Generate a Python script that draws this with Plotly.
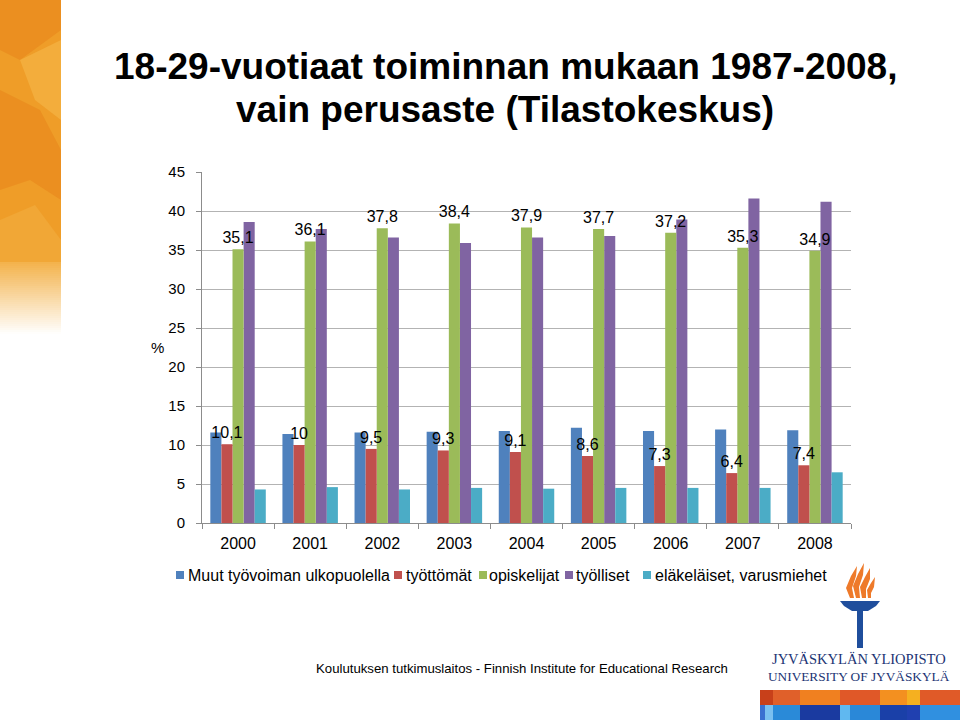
import plotly.graph_objects as go

# ---------------- data ----------------
years = ["2000", "2001", "2002", "2003", "2004", "2005", "2006", "2007", "2008"]
muut = [11.6, 11.4, 11.6, 11.7, 11.8, 12.2, 11.8, 12.0, 11.9]
tyottomat = [10.1, 10.0, 9.5, 9.3, 9.1, 8.6, 7.3, 6.4, 7.4]
opiskelijat = [35.1, 36.1, 37.8, 38.4, 37.9, 37.7, 37.2, 35.3, 34.9]
tyolliset = [38.6, 37.7, 36.6, 35.9, 36.6, 36.8, 38.9, 41.6, 41.2]
elakelaiset = [4.3, 4.6, 4.3, 4.5, 4.4, 4.5, 4.5, 4.5, 6.5]

series_names = ["Muut työvoiman ulkopuolella", "työttömät", "opiskelijat",
                "työlliset", "eläkeläiset, varusmiehet"]
colors = ["#4F81BD", "#C0504D", "#9BBB59", "#8064A2", "#4BACC6"]

y_ticks = [0, 5, 10, 15, 20, 25, 30, 35, 40, 45]


def fi(v):
    return f"{v:g}".replace(".", ",")


# ---------------- layout geometry ----------------
W, H = 960, 720
ML, MR, MT, MB = 202, 109, 172, 197
PW, PH = W - ML - MR, H - MT - MB


def px(x):
    return (x - ML) / PW


def py(y):
    return (H - MB - y) / PH


bw = 1 / 6.5  # Excel gap width 150 %
offsets = [-2.5 * bw, -1.5 * bw, -0.5 * bw, 0.5 * bw, 1.5 * bw]
values = [muut, tyottomat, opiskelijat, tyolliset, elakelaiset]

fig = go.Figure()
draw_order = [0, 3, 4, 2, 1]
for i in draw_order:
    labelled = i in (1, 2)
    fig.add_trace(go.Bar(
        x=years, y=values[i], name=series_names[i],
        marker=dict(color=colors[i], line=dict(width=0)),
        width=bw, offset=offsets[i],
        text=[fi(v) for v in values[i]] if labelled else None,
        textposition="outside" if labelled else "none",
        textfont=dict(family="Liberation Sans, Arial", size=16, color="black"),
        constraintext="none", cliponaxis=False,
        showlegend=False,
    ))

shapes = []
annotations = []

# left orange decorative strip
shapes.append(dict(type="rect", xref="paper", yref="paper",
                   x0=px(0), x1=px(61), y0=py(0), y1=py(262),
                   fillcolor="#EF9D28", line=dict(width=0), layer="below"))
patches = [
    ([(0, 0), (61, 0), (61, 30), (20, 60), (0, 50)], "#E8861A"),
    ([(0, 90), (40, 110), (61, 150), (61, 200), (30, 180), (0, 190)], "#E8861A"),
    ([(20, 60), (61, 40), (61, 120), (35, 100)], "#F5B84A"),
    ([(0, 220), (35, 205), (61, 240), (61, 262), (0, 262)], "#F2AE40"),
]
for p, c in patches:
    path = "M " + " L ".join(f"{px(a)},{py(b)}" for a, b in p) + " Z"
    shapes.append(dict(type="path", xref="paper", yref="paper", path=path,
                       fillcolor=c, opacity=0.6, line=dict(width=0), layer="below"))
steps = 36
for k in range(steps):
    y0 = 262 + k * 2
    op = 1 - (k + 0.5) / steps
    shapes.append(dict(type="rect", xref="paper", yref="paper",
                       x0=px(0), x1=px(61), y0=py(y0), y1=py(y0 + 2),
                       fillcolor="#F3B24A", opacity=op, line=dict(width=0), layer="below"))

# manual legend
leg_sq = [176, 394, 479, 565, 643]
leg_tx = [188, 406, 489, 576, 655]
for i in range(5):
    shapes.append(dict(type="rect", xref="paper", yref="paper",
                       x0=px(leg_sq[i]), x1=px(leg_sq[i] + 8),
                       y0=py(579), y1=py(571), fillcolor=colors[i], line=dict(width=0)))
    annotations.append(dict(xref="paper", yref="paper", x=px(leg_tx[i] - 2), y=py(575),
                            xanchor="left", yanchor="middle", showarrow=False,
                            text=series_names[i],
                            font=dict(family="Liberation Sans, Arial", size=16, color="black")))

# title
annotations.append(dict(xref="paper", yref="paper", x=px(505), y=py(67),
                        xanchor="center", yanchor="middle", showarrow=False,
                        text="<b>18-29-vuotiaat toiminnan mukaan 1987-2008,</b>",
                        font=dict(family="Liberation Sans, Arial", size=37, color="black")))
annotations.append(dict(xref="paper", yref="paper", x=px(505), y=py(109),
                        xanchor="center", yanchor="middle", showarrow=False,
                        text="<b>vain perusaste (Tilastokeskus)</b>",
                        font=dict(family="Liberation Sans, Arial", size=37, color="black")))

# y-axis unit
annotations.append(dict(xref="paper", yref="paper", x=px(157), y=py(347),
                        xanchor="center", yanchor="middle", showarrow=False, text="%",
                        font=dict(family="Liberation Sans, Arial", size=15, color="black")))

# footer
annotations.append(dict(xref="paper", yref="paper", x=px(522), y=py(668),
                        xanchor="center", yanchor="middle", showarrow=False,
                        text="Koulutuksen tutkimuslaitos - Finnish Institute for Educational Research",
                        font=dict(family="Liberation Sans, Arial", size=13.2, color="black")))

# university logo: torch
flames = [
    [(850, 598), (846, 588), (851, 576), (857, 566), (856, 576), (852, 588), (854, 598)],
    [(856, 598), (853, 586), (858, 574), (864, 563), (863, 575), (859, 587), (860, 598)],
    [(862, 598), (860, 587), (865, 577), (870, 568), (870, 579), (866, 589), (866, 598)],
    [(868, 598), (867, 590), (871, 583), (875, 577), (874, 587), (871, 593), (871, 598)],
]
for f in flames:
    path = "M " + " L ".join(f"{px(a)},{py(b)}" for a, b in f) + " Z"
    shapes.append(dict(type="path", xref="paper", yref="paper", path=path,
                       fillcolor="#EE7A2A", line=dict(width=0)))
bowl = [(840, 601), (880, 601), (876, 606), (868, 611), (852, 611), (844, 606)]
path = "M " + " L ".join(f"{px(a)},{py(b)}" for a, b in bowl) + " Z"
shapes.append(dict(type="path", xref="paper", yref="paper", path=path,
                   fillcolor="#1F4E9C", line=dict(width=0)))
shapes.append(dict(type="rect", xref="paper", yref="paper",
                   x0=px(857), x1=px(863), y0=py(648), y1=py(610),
                   fillcolor="#1F4E9C", line=dict(width=0)))
annotations.append(dict(xref="paper", yref="paper", x=px(859), y=py(659),
                        xanchor="center", yanchor="middle", showarrow=False,
                        text="JYVÄSKYLÄN YLIOPISTO",
                        font=dict(family="Liberation Serif, serif", size=14.5, color="#1B3474")))
annotations.append(dict(xref="paper", yref="paper", x=px(859), y=py(676),
                        xanchor="center", yanchor="middle", showarrow=False,
                        text="UNIVERSITY OF JYVÄSKYLÄ",
                        font=dict(family="Liberation Serif, serif", size=13.3, color="#1B3474")))

# colour strip under the logo
orange_row = [(760, 773, "#C8401A"), (773, 800, "#E0602A"), (800, 840, "#F08020"),
              (840, 880, "#E05828"), (880, 907, "#F39020"), (907, 920, "#F5B020"),
              (920, 960, "#E05A28")]
blue_row = [(760, 765, "#3A70D0"), (765, 773, "#7AC0F0"), (773, 800, "#2A8AD8"),
            (800, 840, "#1A3AA0"), (840, 850, "#60B8F0"), (850, 880, "#2A88D8"),
            (880, 907, "#1A40A8"), (907, 920, "#2040B0"), (920, 960, "#3090E0")]
for a, b, c in orange_row:
    shapes.append(dict(type="rect", xref="paper", yref="paper",
                       x0=px(a), x1=px(b), y0=py(705), y1=py(690),
                       fillcolor=c, line=dict(width=0)))
for a, b, c in blue_row:
    shapes.append(dict(type="rect", xref="paper", yref="paper",
                       x0=px(a), x1=px(b), y0=py(720), y1=py(705),
                       fillcolor=c, line=dict(width=0)))

fig.update_layout(
    width=W, height=H,
    margin=dict(l=ML, r=MR, t=MT, b=MB, autoexpand=False),
    paper_bgcolor="white", plot_bgcolor="rgba(0,0,0,0)",
    barmode="overlay",
    showlegend=False,
    font=dict(family="Liberation Sans, Arial", color="black"),
    shapes=shapes,
    annotations=annotations,
    xaxis=dict(type="category", showline=True, linecolor="#8C8C8C", linewidth=1,
               ticks="outside", tickson="boundaries", ticklen=5, tickcolor="#8C8C8C",
               tickfont=dict(size=16, color="black"), ticklabelstandoff=6,
               showgrid=False, range=[-0.5, 8.5]),
    yaxis=dict(range=[0, 45], tickvals=y_ticks, showline=True, linecolor="#8C8C8C",
               ticks="outside", ticklen=5, tickcolor="#8C8C8C",
               showgrid=True, gridcolor="#B3B3B3", gridwidth=1, zeroline=False,
               tickfont=dict(size=15, color="black"), ticklabelstandoff=8),
)

fig.write_html("out.html")
